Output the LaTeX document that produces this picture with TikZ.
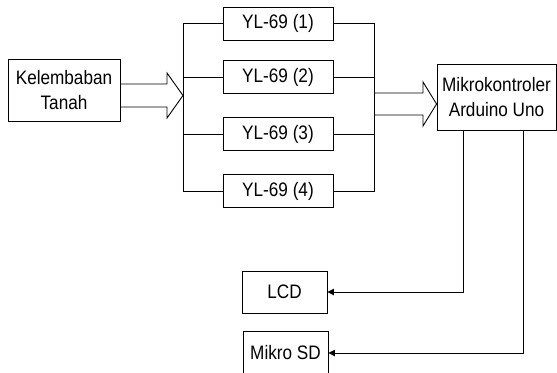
\documentclass[tikz,border=0pt]{standalone}
\usepackage{fontspec}
\setmainfont{Liberation Sans}[FakeStretch=0.88]
\usetikzlibrary{arrows.meta}

\begin{document}
\begin{tikzpicture}[x=1bp,y=-1bp,line width=0.9bp,
    box/.style={draw,align=center,inner sep=0pt,
      font=\fontsize{19.5bp}{25bp}\selectfont},
    tri/.style={-{Triangle[length=6.5bp,width=6.5bp]}}]
  \useasboundingbox (0,0) rectangle (557,372);
  % blocks
  \node[box,minimum width=112bp,minimum height=62bp] (tanah) at (64,90) {Kelembaban\\Tanah};
  \node[box,minimum width=110bp,minimum height=33bp] (yl1) at (278,23.5) {YL-69 (1)};
  \node[box,minimum width=110bp,minimum height=33bp] (yl2) at (278,77) {YL-69 (2)};
  \node[box,minimum width=110bp,minimum height=33bp] (yl3) at (278,134) {YL-69 (3)};
  \node[box,minimum width=110bp,minimum height=33bp] (yl4) at (278,191) {YL-69 (4)};
  \node[box,minimum width=119bp,minimum height=66bp] (mikro) at (496.5,97) {Mikrokontroler\\Arduino Uno};
  \node[box,minimum width=85bp,minimum height=42bp] (lcd) at (284.5,292) {LCD};
  \node[box,minimum width=85bp,minimum height=44bp] (sd) at (285.5,353) {Mikro SD};
  % bus points
  \coordinate (tipL) at (183,95.5);
  \coordinate (busR) at (374,104);
  % hollow arrows
  \draw (tanah.east |- 0,84) -- (167,84) -- (167,73) -- (tipL)
    -- (167,118) -- (167,107) -- (tanah.east |- 0,107);
  \draw (busR |- 0,93) -- (423,93) -- (423,82) -- (mikro.west |- busR)
    -- (423,126) -- (423,115) -- (busR |- 0,115);
  % sensor bus
  \draw (yl1.west) -- (yl1.west -| tipL) -- (yl4.west -| tipL) -- (yl4.west);
  \draw (yl2.west) -- (yl2.west -| tipL);
  \draw (yl3.west) -- (yl3.west -| tipL);
  \draw (yl1.east) -- (yl1.east -| busR) -- (yl4.east -| busR) -- (yl4.east);
  \draw (yl2.east) -- (yl2.east -| busR);
  \draw (yl3.east) -- (yl3.east -| busR);
  % outputs
  \draw[tri] ([xshift=-33.5bp]mikro.south) |- (lcd.east);
  \draw[tri] ([xshift=26.5bp]mikro.south) |- (sd.east);
\end{tikzpicture}
\end{document}
